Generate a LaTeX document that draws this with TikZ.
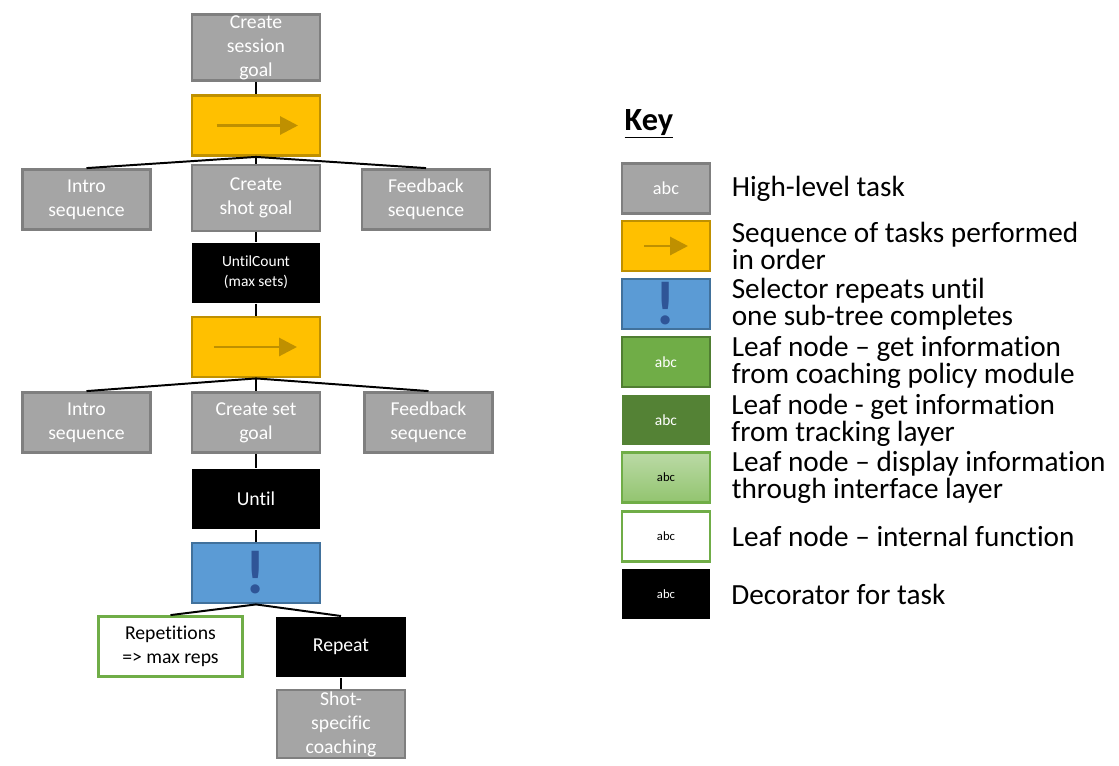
\documentclass[tikz,border=0pt]{standalone}
\usepackage{fontspec}
\setmainfont{Carlito}[Ligatures=NoCommon, Contextuals=NoAlternate]
\usetikzlibrary{arrows.meta, positioning}
\definecolor{cgrey}{HTML}{A5A5A5}
\definecolor{cgreyline}{HTML}{7F7F7F}
\definecolor{cyellow}{HTML}{FFC000}
\definecolor{cgold}{HTML}{BF9000}
\definecolor{cblue}{HTML}{5B9BD5}
\definecolor{cblueline}{HTML}{41719C}
\definecolor{cbluedark}{HTML}{2F5597}
\definecolor{cgreen}{HTML}{70AD47}
\definecolor{cgreenline}{HTML}{507E32}
\definecolor{cdkgreen}{HTML}{548235}
\definecolor{clgtop}{HTML}{BBDAA6}
\definecolor{clgbot}{HTML}{92C46F}
\tikzset{
  every picture/.style={line width=1.4pt},
  high/.style={draw=cgreyline, fill=cgrey, text=white, line width=2pt},
  seq/.style={draw=cgold, fill=cyellow, line width=2pt},
  sel/.style={draw=cblueline, fill=cblue, text=cbluedark, line width=2pt},
  policy/.style={draw=cgreenline, fill=cgreen, text=white, line width=2pt},
  track/.style={fill=cdkgreen, text=white},
  show/.style={draw=cgreen, top color=clgtop, bottom color=clgbot, text=black, line width=2pt},
  leaf/.style={draw=cgreen, fill=white, text=black, line width=2pt},
  deco/.style={fill=black, text=white},
  tnode/.style={minimum width=3.2cm, minimum height=1.5cm, align=center, inner sep=1pt, font=\fontsize{14}{17}\selectfont},
  keybox/.style={minimum width=2.2cm, minimum height=1.25cm, inner sep=0pt},
  keytext/.style={align=left, inner sep=1pt, font=\fontsize{20.8}{16.6}\selectfont},
  link/.style={draw=black, line width=1.4pt},
  seqicon/.style={-{Triangle[length=4.5mm, width=4.5mm]}, draw=cgold, line width=2.1pt},
}

\begin{document}
\begin{tikzpicture}[x=0.025cm, y=-0.025cm]
  \useasboundingbox (0,0) rectangle (1119,765);
  % behaviour tree
  \node[high, tnode, minimum height=1.65cm] (session) at (256,47.5) {Create\\session\\goal};
  \node[seq, tnode] (seqa) at (256,125.5) {};
  \node[high, tnode] (introa) at (86.5,199.5) {Intro\\sequence};
  \node[high, tnode, minimum height=1.65cm] (shot) at (256,198) {Create\\shot goal};
  \node[high, tnode] (feeda) at (426,199.5) {Feedback\\sequence};
  \node[deco, tnode, font=\fontsize{11}{14}\selectfont] (count) at (256,272.5) {UntilCount\\(max sets)};
  \node[seq, tnode] (seqb) at (256,347) {};
  \node[high, tnode] (introb) at (86.5,422.5) {Intro\\sequence};
  \node[high, tnode] (set) at (256,422.5) {Create set\\goal};
  \node[high, tnode] (feedb) at (428.5,422.5) {Feedback\\sequence};
  \node[deco, tnode] (until) at (256,499) {Until};
  \node[sel, tnode, font=\fontsize{44}{44}\selectfont] (selector) at (256,573) {\textbf{!}};
  \node[leaf, tnode, minimum width=3.6cm] (reps) at (170.5,646.5) {Repetitions\\=> max reps};
  \node[deco, tnode, minimum width=3.25cm] (repeat) at (341,647) {Repeat};
  \node[high, tnode, minimum height=1.7cm] (coach) at (341,724) {Shot-\\specific\\coaching};
  \draw[seqicon] ([xshift=-0.975cm]seqa.center) -- ([xshift=1.05cm]seqa.center);
  \draw[seqicon] ([xshift=-1.05cm]seqb.center) -- ([xshift=1.025cm]seqb.center);
  % links
  \foreach \a/\b in {session/seqa, shot/count, count/seqb, set/until, until/selector, repeat/coach} {
    \draw[link] (\a) -- (\b);
  }
  \foreach \b in {introa, shot, feeda} {
    \draw[link] (seqa.south) -- (\b.north);
  }
  \foreach \b in {introb, set, feedb} {
    \draw[link] (seqb.south) -- (\b.north);
  }
  \foreach \b in {reps, repeat} {
    \draw[link] (selector.south) -- (\b.north);
  }
  % key
  \node[font=\fontsize{23}{23}\selectfont\bfseries, anchor=base west] (key) at (619,130) {\underline{Key}};
  \foreach \y/\s/\f/\a/\t/\n in {188.5/high/13/abc/{High-level task}/1,
                                 246/seq/13/{}/{Sequence of tasks performed\\in order}/2,
                                 304/sel/44/\textbf{!}/{Selector repeats until\\one sub-tree completes}/3,
                                 362/policy/11/abc/{Leaf node -- get information\\from coaching policy module}/4,
                                 420/track/11/abc/{Leaf node - get information\\from tracking layer}/5,
                                 477.5/show/9/abc/{Leaf node -- display information\\through interface layer}/6,
                                 536.5/leaf/9/abc/{Leaf node -- internal function}/7,
                                 594/deco/9/abc/{Decorator for task}/8} {
    \node[keybox, \s, font=\fontsize{\f}{\f}\selectfont] (k\n) at (666,\y) {\a};
    \node[keytext, right=0.45cm of k\n] (t\n) {\t};
  }
  \draw[seqicon] ([xshift=-0.55cm]k2.center) -- ([xshift=0.55cm]k2.center);
\end{tikzpicture}
\end{document}
